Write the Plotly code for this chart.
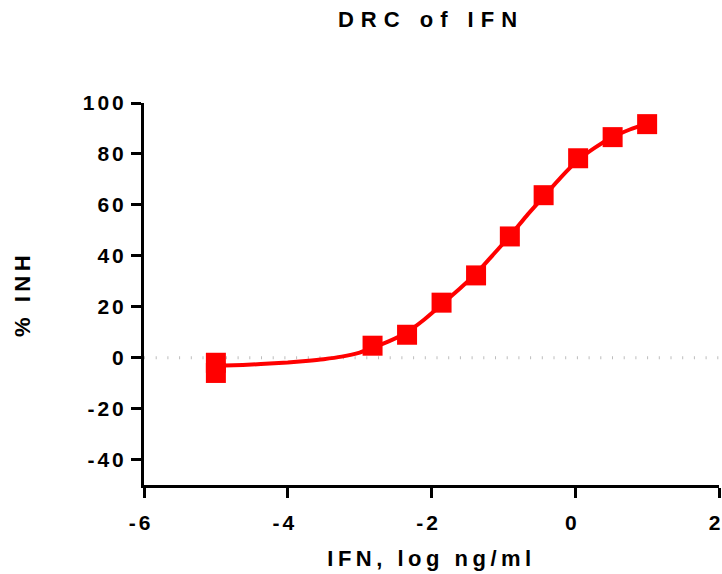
import plotly.graph_objects as go

# Data
log_conc = [-5.0, -5.0, -2.82, -2.34, -1.86, -1.38, -0.91, -0.44, 0.04, 0.52, 1.0]
pct_inh = [-2.0, -6.0, 4.7, 9.0, 21.6, 32.3, 47.6, 63.8, 78.3, 86.6, 91.7]

# fitted curve, sampled by eye from the reference
curve_x = [-5.0, -4.75, -4.5, -4.25, -4.0, -3.75, -3.5, -3.25, -3.0, -2.82, -2.58, -2.34,
           -2.1, -1.86, -1.62, -1.38, -1.15, -0.91, -0.68, -0.44, -0.2, 0.04, 0.28, 0.52, 0.76, 1.0]
curve_y = [-3.2, -3.0, -2.7, -2.3, -1.9, -1.3, -0.6, 0.4, 2.0, 3.9, 6.6, 10.0,
           15.0, 20.8, 26.8, 33.0, 40.2, 47.8, 55.6, 63.2, 70.8, 77.6, 82.6, 86.6, 89.6, 92.0]

x_ticks = [-6, -4, -2, 0, 2]
y_ticks = [-40, -20, 0, 20, 40, 60, 80, 100]

RED = "#FF0000"
FONT = "Liberation Sans, Arial, sans-serif"

fig = go.Figure()
fig.add_trace(go.Scatter(
    x=curve_x, y=curve_y, mode="lines",
    line=dict(color=RED, width=4, shape="spline", smoothing=0.6),
    hoverinfo="skip", showlegend=False,
))
fig.add_trace(go.Scatter(
    x=log_conc, y=pct_inh, mode="markers",
    marker=dict(symbol="square", size=20, color=RED, line=dict(width=0)),
    showlegend=False,
))

fig.add_shape(type="line", xref="x", yref="y", x0=-6, x1=2, y0=0, y1=0,
              line=dict(color="#bdbdbd", width=3, dash="1px,10.7px"), layer="below")

fig.update_layout(
    width=722, height=574,
    margin=dict(l=144, r=3, t=103, b=89, autoexpand=False),
    paper_bgcolor="white", plot_bgcolor="white",
    font=dict(family=FONT, color="black"),
    title=dict(text="DRC of IFN", x=431 / 722, xanchor="center",
               y=1 - 19 / 574, yref="container", yanchor="middle",
               font=dict(family=FONT, size=22, weight="bold", color="black")),
    xaxis=dict(range=[-6, 2], tickvals=x_ticks, ticktext=[str(v) for v in x_ticks],
               automargin=False, ticklabeloverflow="allow", ticklabelstandoff=7,
               ticklabelshift=-3,
               showgrid=False, zeroline=False, showline=True, linecolor="black", linewidth=3,
               ticks="outside", ticklen=10, tickwidth=3, tickcolor="black",
               tickfont=dict(family=FONT, size=21, weight="bold", color="black"),
               title=dict(text="IFN, log ng/ml", standoff=18,
                          font=dict(family=FONT, size=22, weight="bold", color="black"))),
    yaxis=dict(range=[-50, 100], tickvals=y_ticks, ticktext=[str(v) for v in y_ticks],
               automargin=False, ticklabeloverflow="allow",
               showgrid=False, zeroline=False, showline=True, linecolor="black", linewidth=3,
               ticks="outside", ticklen=10, tickwidth=3, tickcolor="black",
               tickfont=dict(family=FONT, size=21, weight="bold", color="black"),
               title=dict(text="% INH", standoff=56,
                          font=dict(family=FONT, size=22, weight="bold", color="black"))),
)

post = """
var s=document.createElement('style');
s.innerHTML='html,body{margin:0;padding:0;overflow:hidden} .gtitle{letter-spacing:7px} .xtitle,.ytitle{letter-spacing:4.5px} .xtick text,.ytick text{letter-spacing:3px}';
document.head.appendChild(s);
"""
fig.write_html("out.html", post_script=post, config={"displayModeBar": False})
